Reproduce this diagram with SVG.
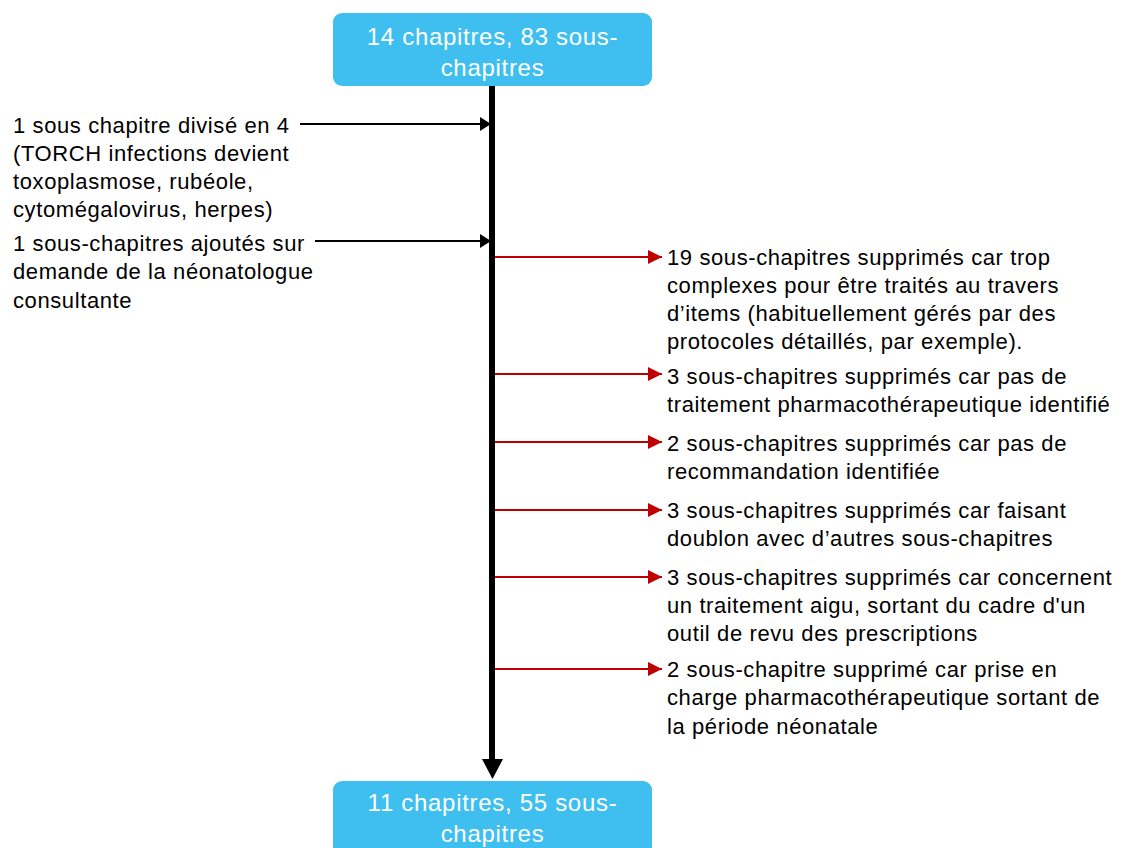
<svg xmlns="http://www.w3.org/2000/svg" width="1122" height="848" viewBox="0 0 1122 848">
  <style>
    .box { fill: #3ebff0; }
    .boxtxt { font-family: "Liberation Sans", Arial, sans-serif; font-size: 24px; letter-spacing: 0.7px; fill: #ffffff; text-anchor: middle; }
    .txt { font-family: "Liberation Sans", Arial, sans-serif; font-size: 22px; letter-spacing: 0.6px; fill: #000000; }
    .blk { stroke: #000000; stroke-width: 2; fill: none; }
    .red { stroke: #c00000; stroke-width: 2; fill: none; }
  </style>
  <defs>
    <marker id="ahBlack" markerUnits="userSpaceOnUse" markerWidth="12" markerHeight="14" refX="11" refY="7" orient="auto">
      <path d="M0,0 L11,7 L0,14 Z" fill="#000000"/>
    </marker>
    <marker id="ahRed" markerUnits="userSpaceOnUse" markerWidth="15" markerHeight="14" refX="14" refY="7" orient="auto">
      <path d="M0,0 L14,7 L0,14 Z" fill="#c00000"/>
    </marker>
  </defs>
  <rect width="1122" height="848" fill="#ffffff"/>

  <!-- main timeline and side arrows -->
  <g id="connectors">
    <line x1="492" y1="86" x2="492" y2="762" stroke="#000000" stroke-width="6"/>
    <path d="M482,759 L503,759 L492.5,779 Z" fill="#000000"/>
    <line class="blk" x1="300" y1="124" x2="491" y2="124" marker-end="url(#ahBlack)"/>
    <line class="blk" x1="315" y1="241" x2="491" y2="241" marker-end="url(#ahBlack)"/>
    <line class="red" x1="495" y1="257" x2="662" y2="257" marker-end="url(#ahRed)"/>
    <line class="red" x1="495" y1="374" x2="662" y2="374" marker-end="url(#ahRed)"/>
    <line class="red" x1="495" y1="442" x2="662" y2="442" marker-end="url(#ahRed)"/>
    <line class="red" x1="495" y1="510" x2="662" y2="510" marker-end="url(#ahRed)"/>
    <line class="red" x1="495" y1="577" x2="662" y2="577" marker-end="url(#ahRed)"/>
    <line class="red" x1="495" y1="669" x2="662" y2="669" marker-end="url(#ahRed)"/>
  </g>

  <g id="start">
    <rect class="box" x="333" y="13" width="319" height="73" rx="9"/>
    <text class="boxtxt" x="492.5" y="45">14 chapitres, 83 sous-</text>
    <text class="boxtxt" x="492.5" y="76">chapitres</text>
  </g>

  <g id="end">
    <rect class="box" x="333" y="781" width="319" height="80" rx="9"/>
    <text class="boxtxt" x="492.5" y="811">11 chapitres, 55 sous-</text>
    <text class="boxtxt" x="492.5" y="842">chapitres</text>
  </g>

  <g id="split">
    <text class="txt" x="13" y="133">1 sous chapitre divisé en 4</text>
    <text class="txt" x="13" y="161">(TORCH infections devient</text>
    <text class="txt" x="13" y="189">toxoplasmose, rubéole,</text>
    <text class="txt" x="13" y="217">cytomégalovirus, herpes)</text>
  </g>

  <g id="added">
    <text class="txt" x="13" y="251">1 sous-chapitres ajoutés sur</text>
    <text class="txt" x="13" y="279">demande de la néonatologue</text>
    <text class="txt" x="13" y="308">consultante</text>
  </g>

  <g id="removed-complex">
    <text class="txt" x="667" y="265">19 sous-chapitres supprimés car trop</text>
    <text class="txt" x="667" y="293">complexes pour être traités au travers</text>
    <text class="txt" x="667" y="321">d’items (habituellement gérés par des</text>
    <text class="txt" x="667" y="349">protocoles détaillés, par exemple).</text>
  </g>

  <g id="removed-no-treatment">
    <text class="txt" x="667" y="384">3 sous-chapitres supprimés car pas de</text>
    <text class="txt" x="667" y="412">traitement pharmacothérapeutique identifié</text>
  </g>

  <g id="removed-no-recommendation">
    <text class="txt" x="667" y="451">2 sous-chapitres supprimés car pas de</text>
    <text class="txt" x="667" y="479">recommandation identifiée</text>
  </g>

  <g id="removed-duplicate">
    <text class="txt" x="667" y="518">3 sous-chapitres supprimés car faisant</text>
    <text class="txt" x="667" y="546">doublon avec d’autres sous-chapitres</text>
  </g>

  <g id="removed-acute">
    <text class="txt" x="667" y="585">3 sous-chapitres supprimés car concernent</text>
    <text class="txt" x="667" y="613">un traitement aigu, sortant du cadre d'un</text>
    <text class="txt" x="667" y="641">outil de revu des prescriptions</text>
  </g>

  <g id="removed-neonatal">
    <text class="txt" x="667" y="677">2 sous-chapitre supprimé car prise en</text>
    <text class="txt" x="667" y="705">charge pharmacothérapeutique sortant de</text>
    <text class="txt" x="667" y="734">la période néonatale</text>
  </g>
</svg>
